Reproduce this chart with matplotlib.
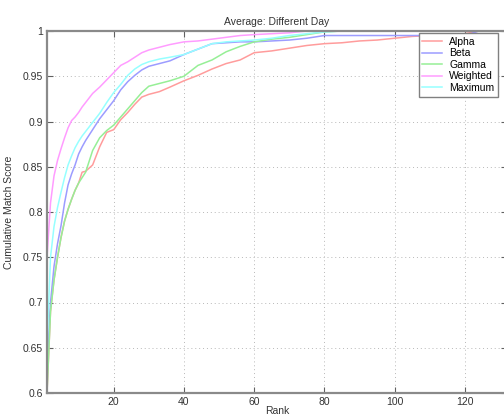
import matplotlib
matplotlib.use("Agg")
import matplotlib.pyplot as plt
from matplotlib.ticker import FormatStrFormatter

plt.rcParams['font.family'] = ['Liberation Sans', 'DejaVu Sans']

# ranks sampled off the reference curves
ranks = [1, 2, 3, 4, 5, 6, 7, 8, 9, 10, 11, 12, 14, 16, 18, 20, 22, 24, 26, 28,
         30, 33, 36, 40, 44, 48, 52, 56, 60, 65, 70, 75, 80, 85, 90, 95, 100,
         105, 110, 115, 120, 124, 128, 132]

alpha = [0.600, 0.690, 0.725, 0.750, 0.772, 0.790, 0.803, 0.814, 0.824, 0.832,
         0.844, 0.845, 0.852, 0.872, 0.888, 0.891, 0.902, 0.910, 0.919, 0.927,
         0.930, 0.933, 0.938, 0.945, 0.951, 0.958, 0.964, 0.968, 0.976, 0.978,
         0.981, 0.984, 0.986, 0.987, 0.989, 0.990, 0.992, 0.994, 0.995, 0.996,
         0.997, 1.000, 1.000, 1.000]
beta = [0.630, 0.700, 0.740, 0.765, 0.785, 0.810, 0.830, 0.842, 0.852, 0.864,
        0.872, 0.879, 0.891, 0.903, 0.913, 0.923, 0.935, 0.944, 0.951, 0.957,
        0.961, 0.964, 0.967, 0.974, 0.980, 0.986, 0.987, 0.988, 0.988, 0.989,
        0.990, 0.992, 0.995, 0.995, 0.995, 0.995, 0.995, 0.995, 0.995, 0.995,
        0.995, 1.000, 1.000, 1.000]
gamma = [0.600, 0.690, 0.725, 0.750, 0.772, 0.790, 0.803, 0.814, 0.824, 0.832,
         0.838, 0.844, 0.868, 0.882, 0.890, 0.896, 0.905, 0.914, 0.923, 0.932,
         0.939, 0.942, 0.945, 0.950, 0.962, 0.968, 0.977, 0.983, 0.988, 0.991,
         0.993, 0.996, 0.999, 1.000, 1.000, 1.000, 1.000, 1.000, 1.000, 1.000,
         1.000, 1.000, 1.000, 1.000]
weighted = [0.750, 0.810, 0.840, 0.857, 0.870, 0.882, 0.893, 0.901, 0.905, 0.910,
            0.916, 0.921, 0.931, 0.938, 0.946, 0.954, 0.962, 0.966, 0.971, 0.976,
            0.979, 0.982, 0.985, 0.988, 0.989, 0.991, 0.993, 0.995, 0.996, 0.997,
            0.998, 1.000, 1.000, 1.000, 1.000, 1.000, 1.000, 1.000, 1.000, 1.000,
            1.000, 1.000, 1.000, 1.000]
maximum = [0.650, 0.750, 0.784, 0.805, 0.822, 0.838, 0.852, 0.862, 0.871, 0.878,
           0.884, 0.889, 0.899, 0.909, 0.921, 0.932, 0.941, 0.951, 0.958, 0.963,
           0.966, 0.969, 0.971, 0.974, 0.980, 0.986, 0.988, 0.989, 0.990, 0.992,
           0.995, 0.997, 0.999, 1.000, 1.000, 1.000, 1.000, 1.000, 1.000, 1.000,
           1.000, 1.000, 1.000, 1.000]

series = [("Alpha", alpha, "#ff9c9c"),
          ("Beta", beta, "#9c9cff"),
          ("Gamma", gamma, "#96ef96"),
          ("Weighted", weighted, "#ff9cff"),
          ("Maximum", maximum, "#96ffff")]

fig = plt.figure(figsize=(5.04, 4.17), dpi=100)
ax = fig.add_axes([47 / 504, 1 - 393 / 417, 460 / 504, 362 / 417])

for name, vals, col in series:
    ax.plot(ranks, vals, color=col, lw=1.1, label=name)

ax.set_xlim(1, 132)
ax.set_ylim(0.6, 1.0)
ax.set_xticks([20, 40, 60, 80, 100, 120])
ax.set_yticks([0.6, 0.65, 0.7, 0.75, 0.8, 0.85, 0.9, 0.95, 1.0])
ax.yaxis.set_major_formatter(FormatStrFormatter('%g'))
ax.tick_params(direction='in', length=4, width=0.8, color='#606060',
               labelsize=7.5, labelcolor='#333333', top=True, right=True, pad=3)
ax.grid(True, linestyle=(0, (1, 3)), color='#b8b8b8', lw=0.7)
for sp in ax.spines.values():
    sp.set_color('#8a8a8a')
    sp.set_linewidth(1.6)

ax.set_title("Average: Different Day", fontsize=7.5, color='#333333', pad=4)
ax.set_xlabel("Rank", fontsize=7.5, color='#333333', labelpad=-1)
ax.set_ylabel("Cumulative Match Score", fontsize=7.5, color='#333333', labelpad=6)

leg = ax.legend(loc='upper right', bbox_to_anchor=(498 / 504, 1 - 33 / 417),
                bbox_transform=fig.transFigure, borderaxespad=0, fontsize=7.5,
                fancybox=False, framealpha=1, edgecolor='#808080',
                handlelength=1.9, labelspacing=0.15, borderpad=0.35,
                handletextpad=0.7)
leg.get_frame().set_linewidth(1.0)

fig.savefig("out.png", dpi=100)
